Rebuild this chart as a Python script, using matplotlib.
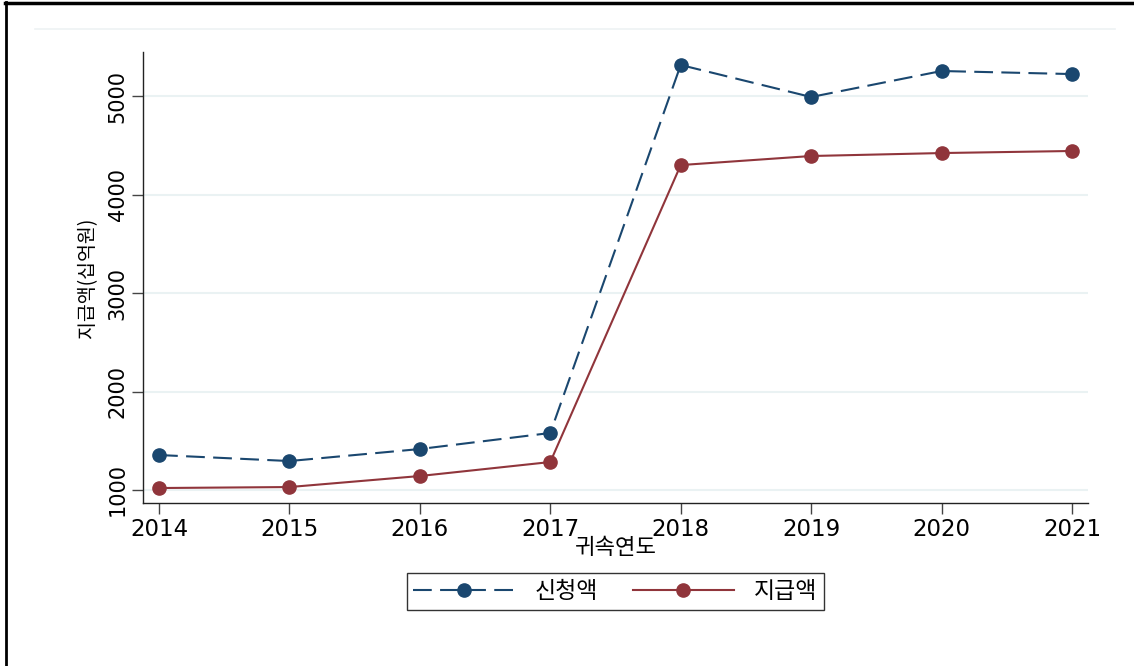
import matplotlib
matplotlib.use("Agg")
import matplotlib.pyplot as plt
from matplotlib.lines import Line2D

years = [2014, 2015, 2016, 2017, 2018, 2019, 2020, 2021]
applied = [1355, 1294, 1416, 1579, 5315, 4990, 5254, 5223]   # 신청액
paid = [1020, 1030, 1142, 1284, 4299, 4391, 4421, 4442]      # 지급액
yticks = [1000, 2000, 3000, 4000, 5000]
series_names = ["신청액", "지급액"]
xlabel = "귀속연도"
ylabel = "지급액(십억원)"

plt.rcParams['font.family'] = ['DejaVu Sans', 'Noto Sans CJK KR']
KR = ['Noto Sans CJK KR', 'DejaVu Sans']

blue = "#1a476f"
red = "#90353b"
grid = "#eaf2f3"

fig = plt.figure(figsize=(11.34, 6.66), dpi=100)
ax = fig.add_axes([143/1134, 1-503/666, (1088-143)/1134, (503-52)/666])

ax.plot(years, applied, color=blue, lw=1.5, ls=(0, (9, 4)), marker='o',
        markersize=9.5, label=series_names[0], zorder=3)
ax.plot(years, paid, color=red, lw=1.5, ls='-', marker='o',
        markersize=9.5, label=series_names[1], zorder=3)

ax.set_xlim(2013.877, 2021.123)
ax.set_ylim(868, 5447)
ax.set_xticks(years)
ax.set_yticks(yticks)
ax.set_xticklabels([str(y) for y in years], fontsize=16.5)
ax.set_yticklabels([str(v) for v in yticks], fontsize=15, rotation=90, va='center')
for v in yticks:
    ax.axhline(v, color=grid, lw=1.5, zorder=0)

for s in ['top', 'right']:
    ax.spines[s].set_visible(False)
for s in ['left', 'bottom']:
    ax.spines[s].set_color('#222222')
    ax.spines[s].set_linewidth(1.0)
ax.tick_params(axis='both', length=8, width=1.0, color='#444444', pad=3)

ax.set_xlabel(xlabel, fontsize=16, family=KR, labelpad=-4)
ax.set_ylabel(ylabel, fontsize=14, family=KR, labelpad=7)

# outer frame and top plotregion line
fig.add_artist(Line2D([5.5/1134, 5.5/1134], [0, 1-2/666], transform=fig.transFigure,
                      color='black', lw=2))
fig.add_artist(Line2D([5/1134, 1], [1-2.5/666, 1-2.5/666], transform=fig.transFigure,
                      color='black', lw=2.5))
fig.add_artist(Line2D([35/1134, 1115/1134], [1-29/666, 1-29/666], transform=fig.transFigure,
                      color='#eef2f4', lw=1.2))

leg = fig.legend(loc='center', bbox_to_anchor=((402+829)/2/1134, 1-(572+611)/2/666),
                 ncol=2, numpoints=1, handlelength=4.4, handletextpad=0.9,
                 columnspacing=1.5, fancybox=False, frameon=True, edgecolor='black',
                 borderpad=0.3, prop={'family': KR, 'size': 16.5})
leg.get_frame().set_linewidth(1.0)

fig.savefig("out.png", dpi=100)
